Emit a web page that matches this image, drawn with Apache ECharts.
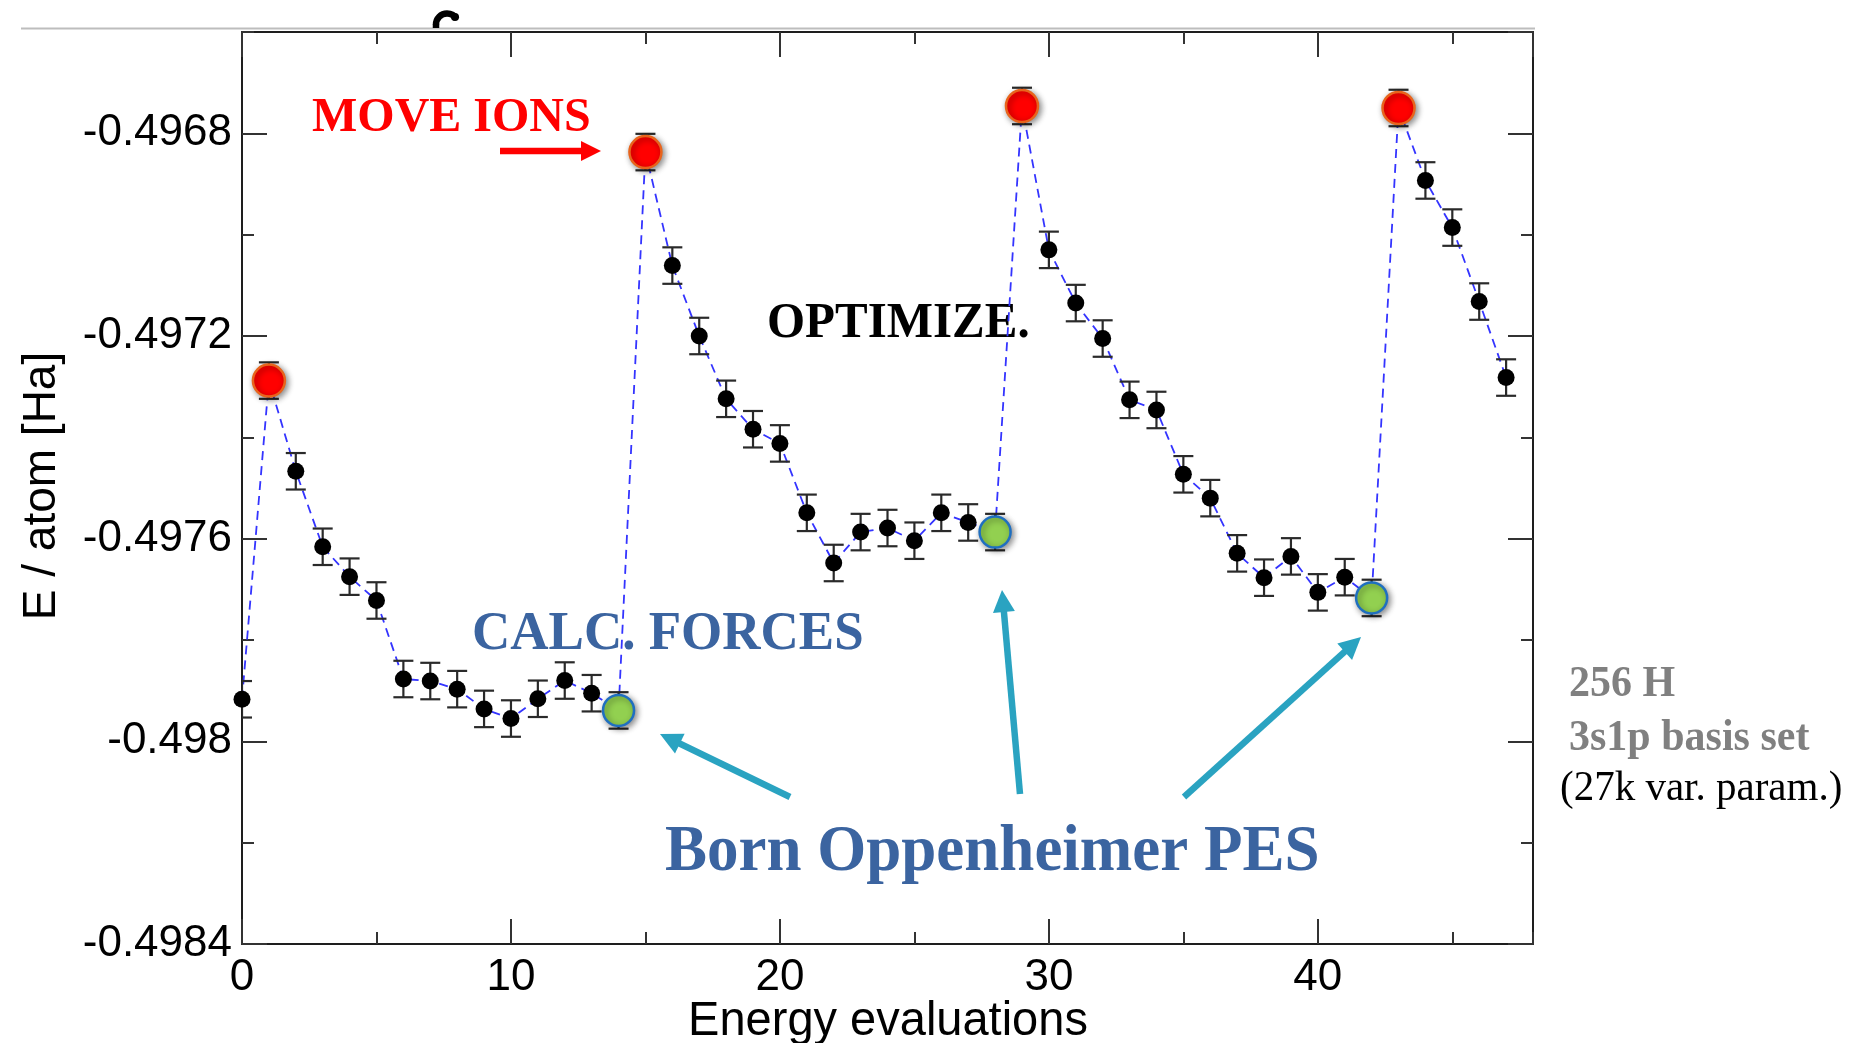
<!DOCTYPE html>
<html>
<head>
<meta charset="utf-8">
<script src="https://cdn.jsdelivr.net/npm/echarts@6/dist/echarts.min.js"></script>
<style>
html,body{margin:0;padding:0;background:#fff;}
#chart{width:1866px;height:1043px;}
</style>
</head>
<body>
<div id="chart"></div>
<script>
// ---- data ----
const evaluations = [0,1,2,3,4,5,6,7,8,9,10,11,12,13,14,15,16,17,18,19,20,21,22,23,24,25,26,27,28,29,30,31,32,33,34,35,36,37,38,39,40,41,42,43,44,45,46,47];
const energies = [
  -0.497917, -0.497288, -0.497467, -0.497616, -0.497675, -0.497722, -0.497877, -0.497881, -0.497897, -0.497936, -0.497955, -0.497916, -0.497880, -0.497905, -0.497939,
  -0.496837, -0.497061, -0.497200, -0.497324, -0.497384, -0.497412, -0.497549, -0.497648, -0.497587, -0.497579, -0.497604, -0.497549, -0.497568, -0.497587,
  -0.496746, -0.497030, -0.497135, -0.497205, -0.497326, -0.497346, -0.497473, -0.497520, -0.497629, -0.497677, -0.497635, -0.497706, -0.497676, -0.497717,
  -0.496750, -0.496893, -0.496986, -0.497132, -0.497282
];
const errors = [
  0.000036, 0.000036, 0.000036, 0.000036, 0.000036, 0.000036, 0.000036, 0.000036, 0.000036, 0.000036, 0.000036, 0.000036, 0.000036, 0.000036, 0.000036,
  0.000036, 0.000036, 0.000036, 0.000036, 0.000036, 0.000036, 0.000036, 0.000036, 0.000036, 0.000036, 0.000036, 0.000036, 0.000036, 0.000036,
  0.000036, 0.000036, 0.000036, 0.000036, 0.000036, 0.000036, 0.000036, 0.000036, 0.000036, 0.000036, 0.000036, 0.000036, 0.000036, 0.000036,
  0.000036, 0.000036, 0.000036, 0.000036, 0.000036
];
const moveIonsSteps = [1, 15, 29, 43];
const calcForcesSteps = [14, 28, 42];
const xRange = [0, 48];
const xMajor = 10, xMinor = 5;
const yRange = [-0.4984, -0.4966];
const yMajor = 0.0004, yMinor = 0.0002;
const xTitle = 'Energy evaluations';
const yTitle = 'E / atom [Ha]';

// ---- build ----
const points = evaluations.map((x, i) => [x, energies[i]]);
const bars = evaluations.map((x, i) => [x, energies[i] - errors[i], energies[i] + errors[i]]);
const movePts = moveIonsSteps.map(i => [evaluations[i], energies[i]]);
const forcePts = calcForcesSteps.map(i => [evaluations[i], energies[i]]);

const SANS = '"Liberation Sans", Arial, Helvetica, sans-serif';
const SERIF = '"Liberation Serif", "Times New Roman", serif';
const AX = '#1e1e1e';

function mkAxis(kind, pos, range, interval, tickLen, showLabel, showLine) {
  return {
    type: 'value', position: pos, min: range[0], max: range[1], interval: interval,
    axisLine: {show: showLine, onZero: false, lineStyle: {color: AX, width: 2}},
    axisTick: {show: true, inside: true, length: tickLen, lineStyle: {color: '#333', width: 2}},
    minorTick: {show: false},
    splitLine: {show: false},
    axisLabel: showLabel ? {
      show: true, color: '#000', fontFamily: SANS, fontSize: 44, lineHeight: 44,
      margin: kind === 'x' ? 12 : 10, showMaxLabel: false, showMinLabel: true
    } : {show: false}
  };
}

const chart = echarts.init(document.getElementById('chart'), null, {renderer: 'canvas'});

function arrow(x1, y1, x2, y2, color, w, hl, hw) {
  const dx = x2 - x1, dy = y2 - y1, L = Math.hypot(dx, dy), ux = dx / L, uy = dy / L;
  const bx = x2 - ux * hl, by = y2 - uy * hl, px = -uy, py = ux;
  return [
    {type: 'line', z: 50, shape: {x1: x1, y1: y1, x2: bx + ux * 2, y2: by + uy * 2}, style: {stroke: color, lineWidth: w}},
    {type: 'polygon', z: 50, shape: {points: [[x2, y2], [bx + px * hw, by + py * hw], [bx - px * hw, by - py * hw]]}, style: {fill: color}}
  ];
}
function label(text, x, y, font, color, align) {
  return {type: 'text', z: 1, x: x, y: y, scaleY: 1.03,
    style: {text: text, font: font, fill: color, align: align || 'left', verticalAlign: 'middle',
            textAlign: align || 'left', textVerticalAlign: 'middle'}};
}

const TEAL = '#2aa3c1';
const BLUE_TXT = '#3b64a0';

const graphics = [
  // thin grey rule at the very top
  {type: 'line', z: 1, shape: {x1: 21, y1: 28.5, x2: 1535, y2: 28.5}, style: {stroke: '#bdbdbd', lineWidth: 2}},
  // cut-off glyph fragment above the rule
  {type: 'arc', z: 1, shape: {cx: 447, cy: 24.5, r: 11, startAngle: Math.PI, endAngle: Math.PI * 11 / 6, clockwise: true}, style: {stroke: '#000', lineWidth: 6.5, fill: null}},
  {type: 'line', z: 1, shape: {x1: 436, y1: 24, x2: 436, y2: 28}, style: {stroke: '#000', lineWidth: 6.5}},
  {type: 'circle', z: 1, shape: {cx: 455, cy: 17, r: 4}, style: {fill: '#000'}},
  label('MOVE IONS', 312, 118, 'bold 48px ' + SERIF, '#ff0000'),
  label('OPTIMIZE.', 767, 324, 'bold 49px ' + SERIF, '#000000'),
  label('CALC. FORCES', 472, 635, 'bold 53px ' + SERIF, BLUE_TXT),
  label('Born Oppenheimer PES', 665, 853, 'bold 63px ' + SERIF, BLUE_TXT),
  label('256 H', 1569, 685, 'bold 42px ' + SERIF, '#808080'),
  label('3s1p basis set', 1569, 739, 'bold 42px ' + SERIF, '#808080'),
  label('(27k var. param.)', 1560, 789, '41px ' + SERIF, '#000000'),
  // axis titles
  {type: 'text', z: 1, x: 42, y: 486, rotation: Math.PI / 2,
   style: {text: yTitle, font: '46px ' + SANS, fill: '#000', align: 'center', verticalAlign: 'middle', textAlign: 'center', textVerticalAlign: 'middle'}},
  label(xTitle, 888, 1022, '47px ' + SANS, '#000', 'center')
].concat(
  arrow(500, 151, 601, 151, '#ff0000', 6.5, 20, 10),
  arrow(790, 797, 660, 734, TEAL, 6.5, 22, 11),
  arrow(1020, 794, 1002, 590, TEAL, 6.5, 22, 11),
  arrow(1184, 797, 1361, 637, TEAL, 6.5, 22, 11)
);

const option = {
  animation: false,
  backgroundColor: '#ffffff',
  grid: {left: 242, top: 32, width: 1291, height: 912, containLabel: false, outerBoundsMode: 'none'},
  xAxis: [
    mkAxis('x', 'bottom', xRange, xMajor, 25, true, true),
    mkAxis('x', 'bottom', xRange, xMinor, 12, false, false),
    mkAxis('x', 'top', xRange, xMajor, 25, false, true),
    mkAxis('x', 'top', xRange, xMinor, 12, false, false)
  ],
  yAxis: [
    mkAxis('y', 'left', yRange, yMajor, 25, true, true),
    mkAxis('y', 'left', yRange, yMinor, 12, false, false),
    mkAxis('y', 'right', yRange, yMajor, 25, false, true),
    mkAxis('y', 'right', yRange, yMinor, 12, false, false)
  ],
  series: [
    {
      type: 'line', data: points, xAxisIndex: 0, yAxisIndex: 0, symbol: 'none', z: 2, silent: true,
      lineStyle: {color: '#3434ff', width: 1.8, type: [9, 6]}
    },
    {
      type: 'custom', data: bars, xAxisIndex: 0, yAxisIndex: 0, z: 3, clip: true, silent: true,
      renderItem: function (params, api) {
        const x = api.value(0);
        const lo = api.coord([x, api.value(1)]);
        const hi = api.coord([x, api.value(2)]);
        const hw = 10;
        const st = {stroke: '#2a2a2a', lineWidth: 2.2};
        return {type: 'group', children: [
          {type: 'line', shape: {x1: lo[0], y1: lo[1], x2: hi[0], y2: hi[1]}, style: st},
          {type: 'line', shape: {x1: lo[0] - hw, y1: lo[1], x2: lo[0] + hw, y2: lo[1]}, style: st},
          {type: 'line', shape: {x1: hi[0] - hw, y1: hi[1], x2: hi[0] + hw, y2: hi[1]}, style: st}
        ]};
      }
    },
    {
      type: 'scatter', data: points, xAxisIndex: 0, yAxisIndex: 0, z: 4, clip: false,
      symbol: 'circle', symbolSize: 17, itemStyle: {color: '#000000', opacity: 1}
    },
    {
      type: 'scatter', data: movePts, xAxisIndex: 0, yAxisIndex: 0, z: 5, clip: false,
      symbol: 'circle', symbolSize: 32,
      itemStyle: {color: '#ff0000', borderColor: '#e8641c', borderWidth: 2.5, opacity: 1,
                  shadowBlur: 6, shadowColor: 'rgba(0,0,0,0.45)', shadowOffsetX: 2, shadowOffsetY: 2}
    },
    {
      type: 'scatter', data: forcePts, xAxisIndex: 0, yAxisIndex: 0, z: 5, clip: false,
      symbol: 'circle', symbolSize: 31,
      itemStyle: {color: '#92d050', borderColor: '#1f6fc0', borderWidth: 2.5, opacity: 1,
                  shadowBlur: 6, shadowColor: 'rgba(0,0,0,0.45)', shadowOffsetX: 2, shadowOffsetY: 2}
    }
  ],
  graphic: graphics
};
chart.setOption(option);
</script>
</body>
</html>
